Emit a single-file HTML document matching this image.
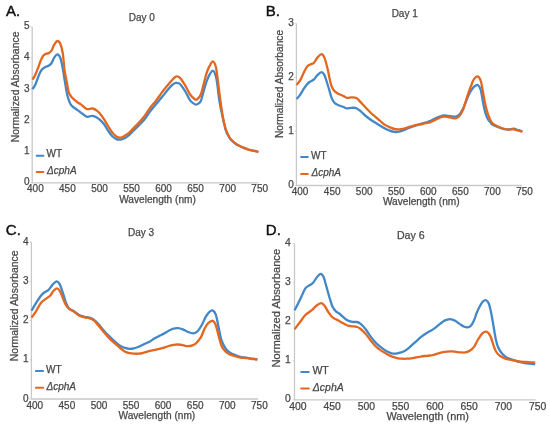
<!DOCTYPE html>
<html><head><meta charset="utf-8"><style>
html,body{margin:0;padding:0;background:#fff;}
svg{display:block;will-change:transform;}
text{stroke:#4a4a4a;stroke-width:0.25;font-family:"Liberation Sans",sans-serif;}
</style></head><body>
<svg width="550" height="427" viewBox="0 0 550 427">
<rect width="550" height="427" fill="#fff"/>
<text x="6.0" y="15.9" font-size="15" fill="#111" style="stroke:#111;stroke-width:0.45">A.</text>
<text x="141.8" y="20.9" font-size="10" fill="#454545" text-anchor="middle">Day 0</text>
<text transform="translate(18.7,86.9) rotate(-90)" font-size="10.45" fill="#454545" text-anchor="middle">Normalized Absorbance</text>
<text x="157.5" y="202.8" font-size="10.15" fill="#454545" text-anchor="middle">Wavelength (nm)</text>
<path d="M32.2,26.8 V182.8 H258.5" fill="none" stroke="#c9c9c9" stroke-width="1.3"/>
<path d="M30.400000000000002,182.8 h1.8" stroke="#c9c9c9" stroke-width="0.8"/>
<text x="26.7" y="185.1" font-size="10" fill="#454545" text-anchor="middle">0</text>
<path d="M30.400000000000002,151.6 h1.8" stroke="#c9c9c9" stroke-width="0.8"/>
<text x="26.7" y="153.9" font-size="10" fill="#454545" text-anchor="middle">1</text>
<path d="M30.400000000000002,120.4 h1.8" stroke="#c9c9c9" stroke-width="0.8"/>
<text x="26.7" y="122.7" font-size="10" fill="#454545" text-anchor="middle">2</text>
<path d="M30.400000000000002,89.2 h1.8" stroke="#c9c9c9" stroke-width="0.8"/>
<text x="26.7" y="91.5" font-size="10" fill="#454545" text-anchor="middle">3</text>
<path d="M30.400000000000002,58.0 h1.8" stroke="#c9c9c9" stroke-width="0.8"/>
<text x="26.7" y="60.3" font-size="10" fill="#454545" text-anchor="middle">4</text>
<path d="M30.400000000000002,26.8 h1.8" stroke="#c9c9c9" stroke-width="0.8"/>
<text x="26.7" y="29.1" font-size="10" fill="#454545" text-anchor="middle">5</text>
<text x="35.4" y="192.4" font-size="10" fill="#454545" text-anchor="middle">400</text>
<text x="67.4" y="192.4" font-size="10" fill="#454545" text-anchor="middle">450</text>
<text x="99.5" y="192.4" font-size="10" fill="#454545" text-anchor="middle">500</text>
<text x="131.5" y="192.4" font-size="10" fill="#454545" text-anchor="middle">550</text>
<text x="163.6" y="192.4" font-size="10" fill="#454545" text-anchor="middle">600</text>
<text x="195.6" y="192.4" font-size="10" fill="#454545" text-anchor="middle">650</text>
<text x="227.7" y="192.4" font-size="10" fill="#454545" text-anchor="middle">700</text>
<text x="259.7" y="192.4" font-size="10" fill="#454545" text-anchor="middle">750</text>
<path d="M32.4,89.2 C32.9,88.5 34.4,86.6 35.3,84.7 C36.2,82.8 37.0,80.1 37.9,77.9 C38.8,75.7 39.6,73.2 40.5,71.6 C41.4,70.0 42.3,69.2 43.2,68.4 C44.1,67.6 44.8,67.3 45.8,66.8 C46.8,66.3 47.9,66.2 48.9,65.6 C49.9,65.0 50.7,64.3 51.6,63.0 C52.5,61.7 53.2,59.0 54.2,57.6 C55.2,56.2 56.4,54.3 57.4,54.4 C58.4,54.5 59.5,55.7 60.4,58.1 C61.3,60.5 62.0,64.5 62.8,68.6 C63.6,72.7 64.3,78.4 65.1,82.9 C65.9,87.4 66.6,92.3 67.5,95.8 C68.4,99.3 69.3,102.0 70.4,104.0 C71.5,106.0 72.6,106.4 73.9,107.5 C75.2,108.6 76.8,109.6 78.0,110.4 C79.2,111.2 79.5,111.5 80.9,112.6 C82.4,113.6 84.8,116.2 86.7,116.7 C88.7,117.2 90.8,115.6 92.6,115.8 C94.3,116.0 96.0,117.1 97.2,117.8 C98.4,118.5 98.8,118.7 100.0,119.8 C101.2,120.9 102.7,122.4 104.1,124.3 C105.5,126.2 106.8,128.9 108.2,130.9 C109.6,132.9 110.9,134.8 112.3,136.2 C113.7,137.6 115.0,138.5 116.4,139.1 C117.8,139.7 119.1,139.7 120.5,139.6 C121.9,139.5 123.2,139.0 124.6,138.3 C126.0,137.6 127.3,136.6 128.7,135.4 C130.1,134.2 131.2,132.9 132.8,131.3 C134.4,129.7 136.6,127.5 138.5,125.6 C140.4,123.7 142.1,122.3 144.0,120.0 C145.9,117.7 148.0,114.1 150.0,111.5 C152.0,108.9 154.0,106.6 156.0,104.2 C158.0,101.8 160.0,99.4 162.0,97.0 C164.0,94.6 166.3,91.6 168.0,89.6 C169.7,87.6 170.7,86.3 172.0,85.2 C173.3,84.1 174.5,83.1 175.8,82.9 C177.1,82.7 178.4,82.5 180.0,84.0 C181.6,85.5 183.7,88.9 185.4,91.6 C187.1,94.3 188.5,98.3 190.1,100.4 C191.7,102.5 193.6,103.7 194.8,104.3 C196.0,104.9 196.2,104.8 197.2,104.3 C198.2,103.8 199.6,103.5 200.7,101.3 C201.8,99.1 202.6,94.6 203.6,91.3 C204.6,88.0 205.5,84.2 206.6,81.3 C207.7,78.4 209.0,75.5 210.1,73.7 C211.2,72.0 212.1,70.4 213.1,70.8 C214.1,71.2 215.1,73.5 215.8,76.1 C216.6,78.7 217.1,82.9 217.6,86.6 C218.1,90.3 218.5,94.9 219.0,98.3 C219.5,101.7 220.0,104.4 220.5,107.0 C221.0,109.6 221.5,111.5 222.0,114.0 C222.5,116.5 223.0,119.2 223.7,122.0 C224.4,124.8 225.1,128.3 226.1,131.0 C227.1,133.7 228.6,136.4 229.6,138.0 C230.6,139.6 231.0,139.7 232.0,140.7 C233.0,141.7 234.3,143.0 235.5,143.8 C236.7,144.7 237.8,145.2 239.0,145.8 C240.2,146.4 241.3,146.9 242.5,147.4 C243.7,147.9 244.8,148.3 246.0,148.7 C247.2,149.1 248.4,149.7 249.6,150.0 C250.8,150.3 251.9,150.3 253.1,150.6 C254.3,150.8 255.7,151.3 256.6,151.5 C257.5,151.7 258.1,151.9 258.4,152.0" fill="none" stroke="#4287c8" stroke-width="2.3" stroke-linejoin="round" stroke-linecap="butt"/>
<path d="M32.4,79.6 C32.9,78.8 34.4,76.6 35.3,74.7 C36.2,72.8 37.0,70.7 37.9,68.4 C38.8,66.1 39.6,63.2 40.5,61.1 C41.4,59.0 42.3,57.0 43.2,55.8 C44.1,54.6 44.8,54.4 45.8,53.9 C46.8,53.4 47.9,53.6 48.9,53.0 C49.9,52.4 50.7,51.9 51.6,50.5 C52.5,49.1 53.2,46.3 54.2,44.7 C55.2,43.1 56.3,41.1 57.3,41.0 C58.3,40.9 59.5,41.9 60.4,44.0 C61.3,46.1 62.1,49.1 62.8,53.4 C63.5,57.7 63.9,65.4 64.5,70.0 C65.1,74.6 65.9,77.4 66.6,81.0 C67.3,84.6 67.9,89.2 68.6,91.7 C69.3,94.2 70.0,94.9 71.0,96.3 C72.0,97.7 73.3,98.8 74.5,99.9 C75.7,101.0 76.9,102.0 78.0,102.8 C79.1,103.5 79.5,103.4 80.9,104.4 C82.4,105.4 84.8,108.3 86.7,109.0 C88.7,109.7 90.8,108.2 92.6,108.5 C94.3,108.8 96.0,109.9 97.2,110.8 C98.4,111.7 98.8,112.4 100.0,113.8 C101.2,115.2 102.7,117.3 104.1,119.4 C105.5,121.5 106.8,124.2 108.2,126.4 C109.6,128.6 110.9,130.8 112.3,132.5 C113.7,134.2 115.0,135.8 116.4,136.6 C117.8,137.4 119.1,137.7 120.5,137.6 C121.9,137.5 123.2,136.6 124.6,135.8 C126.0,135.0 127.3,134.2 128.7,133.0 C130.1,131.8 131.2,130.5 132.8,128.9 C134.4,127.3 136.1,125.6 138.0,123.6 C139.9,121.6 142.0,119.3 144.0,116.7 C146.0,114.1 148.0,110.7 150.0,108.0 C152.0,105.3 154.0,103.3 156.0,100.7 C158.0,98.1 160.0,95.1 162.0,92.4 C164.0,89.8 166.3,86.8 168.0,84.8 C169.7,82.8 170.7,81.6 172.0,80.2 C173.3,78.8 174.5,77.0 175.8,76.6 C177.1,76.2 178.4,76.3 180.0,77.8 C181.6,79.3 183.7,83.0 185.4,85.8 C187.1,88.6 188.5,92.3 190.1,94.5 C191.7,96.7 193.6,98.4 194.8,99.2 C196.0,100.0 196.2,99.9 197.2,99.2 C198.2,98.5 199.6,97.3 200.7,94.8 C201.8,92.3 202.6,87.9 203.6,84.3 C204.6,80.7 205.6,76.1 206.6,73.1 C207.6,70.1 208.4,68.0 209.5,66.1 C210.6,64.1 211.8,61.3 212.9,61.4 C214.0,61.5 215.0,63.9 215.8,66.7 C216.6,69.5 217.0,74.1 217.6,78.4 C218.2,82.7 218.8,88.6 219.3,92.5 C219.8,96.4 220.2,98.8 220.6,102.0 C221.0,105.2 221.5,108.5 222.0,111.7 C222.5,114.9 223.0,118.0 223.7,121.1 C224.4,124.2 225.1,127.7 226.1,130.4 C227.1,133.1 228.6,135.9 229.6,137.5 C230.6,139.1 231.0,139.2 232.0,140.2 C233.0,141.2 234.3,142.5 235.5,143.4 C236.7,144.3 237.8,144.9 239.0,145.5 C240.2,146.1 241.3,146.7 242.5,147.2 C243.7,147.7 244.8,148.1 246.0,148.6 C247.2,149.1 248.4,149.6 249.6,149.9 C250.8,150.2 251.9,150.2 253.1,150.5 C254.3,150.8 255.7,151.2 256.6,151.4 C257.5,151.6 258.1,151.8 258.4,151.9" fill="none" stroke="#e4671f" stroke-width="2.3" stroke-linejoin="round" stroke-linecap="butt"/>
<path d="M36.7,155.7 H43.4" stroke="#4287c8" stroke-width="2.0" stroke-linecap="round"/>
<path d="M36.7,171.9 H43.4" stroke="#e4671f" stroke-width="2.0" stroke-linecap="round"/>
<text x="46.6" y="157.1" font-size="10" fill="#454545">WT</text>
<text x="47.1" y="173.6" font-size="10" fill="#454545" font-style="italic">&#916;cphA</text>
<text x="265.8" y="15.9" font-size="15" fill="#111" style="stroke:#111;stroke-width:0.45">B.</text>
<text x="404.7" y="17.4" font-size="10" fill="#454545" text-anchor="middle">Day 1</text>
<text transform="translate(283,84.0) rotate(-90)" font-size="10.2" fill="#454545" text-anchor="middle">Normalized Absorbance</text>
<text x="421.3" y="205.3" font-size="10.15" fill="#454545" text-anchor="middle">Wavelength (nm)</text>
<path d="M296.4,23.6 V185.5 H521.9" fill="none" stroke="#c9c9c9" stroke-width="1.3"/>
<path d="M294.59999999999997,185.5 h1.8" stroke="#c9c9c9" stroke-width="0.8"/>
<text x="291" y="187.9" font-size="10" fill="#454545" text-anchor="middle">0</text>
<path d="M294.59999999999997,131.5 h1.8" stroke="#c9c9c9" stroke-width="0.8"/>
<text x="291" y="133.9" font-size="10" fill="#454545" text-anchor="middle">1</text>
<path d="M294.59999999999997,77.6 h1.8" stroke="#c9c9c9" stroke-width="0.8"/>
<text x="291" y="80.0" font-size="10" fill="#454545" text-anchor="middle">2</text>
<path d="M294.59999999999997,23.6 h1.8" stroke="#c9c9c9" stroke-width="0.8"/>
<text x="291" y="26.0" font-size="10" fill="#454545" text-anchor="middle">3</text>
<text x="300.1" y="194.9" font-size="10" fill="#454545" text-anchor="middle">400</text>
<text x="332.2" y="194.9" font-size="10" fill="#454545" text-anchor="middle">450</text>
<text x="364.2" y="194.9" font-size="10" fill="#454545" text-anchor="middle">500</text>
<text x="396.3" y="194.9" font-size="10" fill="#454545" text-anchor="middle">550</text>
<text x="428.3" y="194.9" font-size="10" fill="#454545" text-anchor="middle">600</text>
<text x="460.4" y="194.9" font-size="10" fill="#454545" text-anchor="middle">650</text>
<text x="492.4" y="194.9" font-size="10" fill="#454545" text-anchor="middle">700</text>
<text x="524.5" y="194.9" font-size="10" fill="#454545" text-anchor="middle">750</text>
<path d="M296.6,99.0 C297.2,98.4 298.8,96.8 299.9,95.2 C301.0,93.6 302.2,91.2 303.4,89.4 C304.6,87.6 305.8,85.7 306.9,84.4 C308.0,83.1 308.7,82.6 309.9,81.8 C311.1,81.0 312.6,80.6 313.9,79.5 C315.1,78.4 316.1,76.3 317.4,75.1 C318.7,73.9 320.3,72.2 321.5,72.2 C322.7,72.2 323.5,73.5 324.4,75.1 C325.3,76.7 326.0,79.6 326.8,82.0 C327.6,84.4 328.3,86.8 329.1,89.4 C329.9,92.0 330.6,95.4 331.5,97.6 C332.4,99.8 333.2,101.5 334.4,102.8 C335.6,104.1 337.0,104.5 338.5,105.2 C340.0,105.9 342.1,106.5 343.5,107.0 C344.9,107.5 345.6,108.3 347.0,108.4 C348.4,108.5 350.1,107.8 351.7,107.8 C353.3,107.8 354.8,107.5 356.4,108.2 C358.0,108.9 359.5,110.4 361.1,111.7 C362.7,113.0 364.2,114.7 365.8,116.0 C367.4,117.3 368.8,118.4 370.4,119.5 C371.9,120.6 373.5,121.5 375.1,122.5 C376.7,123.5 378.2,124.4 379.8,125.4 C381.4,126.4 382.9,127.4 384.5,128.3 C386.1,129.2 388.1,130.1 389.7,130.7 C391.3,131.3 392.8,131.8 394.4,131.9 C396.0,132.1 397.6,131.9 399.1,131.6 C400.7,131.3 402.1,130.8 403.7,130.2 C405.2,129.6 406.8,128.8 408.4,128.1 C410.0,127.4 411.5,126.8 413.1,126.3 C414.7,125.8 416.2,125.3 417.8,124.8 C419.4,124.3 420.9,123.9 422.5,123.4 C424.1,122.9 425.9,122.4 427.2,122.0 C428.4,121.6 428.8,121.5 430.0,121.0 C431.2,120.5 433.1,119.4 434.7,118.7 C436.3,118.0 437.8,117.2 439.4,116.7 C441.0,116.2 442.7,115.6 444.1,115.5 C445.5,115.4 446.7,115.8 448.0,115.9 C449.3,116.1 450.6,116.3 451.9,116.4 C453.2,116.5 454.4,116.9 455.7,116.6 C457.0,116.3 458.4,115.7 459.6,114.4 C460.8,113.1 462.0,110.5 463.0,108.6 C464.0,106.7 464.6,104.8 465.5,102.8 C466.4,100.8 467.2,98.3 468.1,96.4 C469.0,94.5 469.8,92.7 470.7,91.2 C471.6,89.7 472.4,88.4 473.3,87.4 C474.2,86.5 475.0,85.9 475.8,85.5 C476.6,85.1 477.1,84.6 477.9,85.2 C478.7,85.8 479.8,87.0 480.6,89.3 C481.4,91.6 481.9,96.0 482.5,99.2 C483.1,102.4 483.6,105.6 484.2,108.2 C484.8,110.8 485.3,112.9 486.0,114.8 C486.7,116.7 487.5,118.4 488.2,119.6 C488.9,120.8 489.7,121.4 490.4,122.2 C491.1,123.0 491.2,123.9 492.3,124.6 C493.4,125.3 495.2,125.9 497.0,126.6 C498.8,127.3 501.1,128.3 503.0,128.8 C504.9,129.3 506.9,129.5 508.7,129.5 C510.5,129.5 512.0,128.6 513.6,128.7 C515.2,128.8 516.8,129.8 518.3,130.2 C519.8,130.6 521.7,131.2 522.4,131.4" fill="none" stroke="#4287c8" stroke-width="2.3" stroke-linejoin="round" stroke-linecap="butt"/>
<path d="M296.6,85.0 C297.2,84.1 299.3,81.7 300.4,79.8 C301.5,77.9 302.3,75.6 303.4,73.4 C304.5,71.2 305.7,68.4 306.9,66.9 C308.1,65.4 309.2,65.1 310.4,64.4 C311.6,63.7 312.7,63.9 313.9,62.8 C315.1,61.7 316.1,59.0 317.4,57.6 C318.7,56.2 320.3,54.1 321.5,54.1 C322.7,54.1 323.4,55.3 324.4,57.6 C325.4,59.9 326.5,64.4 327.4,68.1 C328.3,71.8 329.2,77.0 329.9,80.0 C330.6,83.0 330.9,84.2 331.5,85.9 C332.1,87.6 332.8,89.1 333.8,90.3 C334.8,91.5 336.2,92.5 337.3,93.3 C338.4,94.0 339.5,94.3 340.5,94.8 C341.5,95.3 342.4,95.6 343.5,96.1 C344.6,96.6 345.6,97.7 347.0,97.9 C348.4,98.1 350.1,97.3 351.7,97.3 C353.3,97.3 354.8,97.2 356.4,98.1 C358.0,99.0 359.5,101.0 361.1,102.6 C362.7,104.2 364.2,106.1 365.8,107.8 C367.4,109.5 368.8,111.0 370.4,112.5 C371.9,114.0 373.5,115.2 375.1,116.6 C376.7,118.0 378.2,119.4 379.8,120.7 C381.4,122.0 382.9,123.5 384.5,124.6 C386.1,125.7 388.1,126.5 389.7,127.2 C391.3,127.9 392.8,128.7 394.4,129.0 C396.0,129.3 397.6,129.4 399.1,129.3 C400.7,129.2 402.1,129.0 403.7,128.7 C405.2,128.3 406.8,127.7 408.4,127.2 C410.0,126.7 411.5,126.2 413.1,125.8 C414.7,125.4 416.2,124.9 417.8,124.6 C419.4,124.3 420.9,124.3 422.5,124.0 C424.1,123.7 425.9,123.1 427.2,122.8 C428.4,122.5 428.8,122.7 430.0,122.3 C431.2,121.9 433.1,121.0 434.7,120.2 C436.3,119.5 437.8,118.4 439.4,117.8 C441.0,117.2 442.7,116.8 444.1,116.7 C445.5,116.6 446.7,116.8 448.0,117.0 C449.3,117.2 450.6,117.7 451.9,117.9 C453.2,118.1 454.4,118.7 455.7,118.3 C457.0,117.9 458.4,117.1 459.6,115.7 C460.8,114.3 462.0,112.2 463.0,109.9 C464.0,107.7 464.6,104.9 465.5,102.2 C466.4,99.5 467.2,96.4 468.1,93.8 C469.0,91.2 469.8,89.0 470.7,86.7 C471.6,84.5 472.4,81.9 473.3,80.3 C474.2,78.7 475.0,77.8 475.8,77.2 C476.6,76.6 477.2,76.1 478.0,76.6 C478.8,77.1 479.9,78.2 480.6,80.3 C481.4,82.4 481.9,85.9 482.5,89.3 C483.1,92.7 483.9,97.3 484.5,100.5 C485.1,103.7 485.7,106.2 486.3,108.6 C486.9,111.0 487.5,112.8 488.2,114.8 C488.9,116.8 489.8,119.0 490.6,120.5 C491.4,122.0 492.0,122.8 493.1,123.8 C494.2,124.8 495.6,125.4 497.2,126.2 C498.8,127.0 501.1,127.9 503.0,128.5 C504.9,129.1 506.9,129.5 508.7,129.6 C510.5,129.7 512.0,129.1 513.6,129.3 C515.2,129.5 516.8,130.3 518.3,130.7 C519.8,131.1 521.7,131.4 522.4,131.6" fill="none" stroke="#e4671f" stroke-width="2.3" stroke-linejoin="round" stroke-linecap="butt"/>
<path d="M301.1,157 H307.8" stroke="#4287c8" stroke-width="2.0" stroke-linecap="round"/>
<path d="M301.1,173.9 H307.8" stroke="#e4671f" stroke-width="2.0" stroke-linecap="round"/>
<text x="311.0" y="158.8" font-size="10" fill="#454545">WT</text>
<text x="311.5" y="176.0" font-size="10" fill="#454545" font-style="italic">&#916;cphA</text>
<text x="5.8" y="234.5" font-size="15" fill="#111" style="stroke:#111;stroke-width:0.45">C.</text>
<text x="141.1" y="236.3" font-size="10" fill="#454545" text-anchor="middle">Day 3</text>
<text transform="translate(17.8,305.8) rotate(-90)" font-size="10.45" fill="#454545" text-anchor="middle">Normalized Absorbance</text>
<text x="156.85" y="418.5" font-size="10.15" fill="#454545" text-anchor="middle">Wavelength (nm)</text>
<path d="M31.4,242 V399 H258.1" fill="none" stroke="#c9c9c9" stroke-width="1.3"/>
<path d="M29.599999999999998,399.0 h1.8" stroke="#c9c9c9" stroke-width="0.8"/>
<text x="25.9" y="401.6" font-size="10" fill="#454545" text-anchor="middle">0</text>
<path d="M29.599999999999998,359.8 h1.8" stroke="#c9c9c9" stroke-width="0.8"/>
<text x="25.9" y="362.4" font-size="10" fill="#454545" text-anchor="middle">1</text>
<path d="M29.599999999999998,320.5 h1.8" stroke="#c9c9c9" stroke-width="0.8"/>
<text x="25.9" y="323.1" font-size="10" fill="#454545" text-anchor="middle">2</text>
<path d="M29.599999999999998,281.2 h1.8" stroke="#c9c9c9" stroke-width="0.8"/>
<text x="25.9" y="283.9" font-size="10" fill="#454545" text-anchor="middle">3</text>
<path d="M29.599999999999998,242.0 h1.8" stroke="#c9c9c9" stroke-width="0.8"/>
<text x="25.9" y="244.6" font-size="10" fill="#454545" text-anchor="middle">4</text>
<text x="34.8" y="408.9" font-size="10" fill="#454545" text-anchor="middle">400</text>
<text x="66.9" y="408.9" font-size="10" fill="#454545" text-anchor="middle">450</text>
<text x="99.0" y="408.9" font-size="10" fill="#454545" text-anchor="middle">500</text>
<text x="131.1" y="408.9" font-size="10" fill="#454545" text-anchor="middle">550</text>
<text x="163.1" y="408.9" font-size="10" fill="#454545" text-anchor="middle">600</text>
<text x="195.2" y="408.9" font-size="10" fill="#454545" text-anchor="middle">650</text>
<text x="227.3" y="408.9" font-size="10" fill="#454545" text-anchor="middle">700</text>
<text x="259.4" y="408.9" font-size="10" fill="#454545" text-anchor="middle">750</text>
<path d="M31.6,310.7 C32.3,309.4 34.5,305.6 36.0,303.2 C37.5,300.8 39.3,297.8 40.7,296.0 C42.1,294.2 42.9,293.5 44.2,292.5 C45.5,291.5 46.9,291.5 48.3,290.2 C49.7,288.9 51.0,286.4 52.4,284.9 C53.8,283.4 55.3,281.6 56.5,281.4 C57.7,281.2 58.3,281.8 59.4,283.7 C60.5,285.6 61.9,290.0 63.0,293.1 C64.1,296.2 64.9,300.0 65.9,302.5 C66.9,305.0 67.5,306.8 68.8,308.2 C70.1,309.6 71.8,309.9 73.5,311.0 C75.2,312.1 77.2,314.0 79.0,315.0 C80.8,316.0 82.7,316.4 84.4,316.8 C86.1,317.2 87.5,317.1 89.1,317.6 C90.6,318.1 92.2,318.6 93.7,319.7 C95.2,320.8 96.8,322.4 98.4,324.1 C100.0,325.8 101.5,327.9 103.1,329.7 C104.7,331.5 106.2,333.3 107.8,334.9 C109.4,336.5 110.9,337.9 112.5,339.4 C114.1,340.8 115.8,342.5 117.2,343.6 C118.6,344.7 119.7,345.5 121.0,346.2 C122.3,346.9 123.6,347.5 125.0,347.9 C126.4,348.3 127.9,348.7 129.4,348.8 C130.9,348.9 132.6,348.6 134.1,348.3 C135.6,348.0 137.1,347.4 138.7,346.8 C140.2,346.2 141.5,345.4 143.4,344.5 C145.3,343.6 148.1,342.4 150.0,341.4 C151.9,340.4 153.1,339.2 154.7,338.3 C156.3,337.4 157.8,336.7 159.4,335.9 C161.0,335.1 162.6,334.5 164.1,333.6 C165.6,332.8 167.1,331.6 168.7,330.8 C170.2,330.0 171.8,329.0 173.4,328.6 C175.0,328.2 176.5,328.1 178.1,328.2 C179.7,328.3 181.2,328.8 182.8,329.4 C184.4,330.0 185.8,331.0 187.5,331.7 C189.2,332.4 191.4,333.5 193.1,333.4 C194.8,333.3 196.3,332.6 197.8,331.0 C199.3,329.4 201.0,326.4 202.3,324.0 C203.6,321.6 204.6,318.6 205.8,316.6 C207.0,314.6 208.4,312.8 209.5,311.8 C210.6,310.8 211.4,309.9 212.5,310.4 C213.6,310.9 214.8,311.8 215.8,314.6 C216.8,317.4 217.7,323.1 218.6,327.3 C219.5,331.5 220.3,336.5 221.4,339.9 C222.5,343.3 223.8,345.6 225.0,347.6 C226.2,349.6 227.5,350.8 228.9,351.9 C230.3,353.0 232.2,353.8 233.5,354.4 C234.8,355.0 235.8,355.4 237.0,355.8 C238.2,356.2 239.3,356.6 240.5,356.9 C241.7,357.2 242.8,357.3 244.0,357.5 C245.2,357.7 246.4,357.7 247.6,357.9 C248.8,358.1 249.9,358.4 251.1,358.6 C252.3,358.8 253.6,358.9 254.6,359.0 C255.6,359.1 256.9,359.3 257.4,359.4" fill="none" stroke="#4287c8" stroke-width="2.3" stroke-linejoin="round" stroke-linecap="butt"/>
<path d="M31.6,317.6 C32.3,316.6 34.5,313.8 36.0,311.4 C37.5,309.0 39.1,305.2 40.7,303.2 C42.3,301.1 43.8,300.3 45.4,299.1 C47.0,297.9 48.7,297.2 50.1,295.8 C51.5,294.4 52.4,292.0 53.6,290.8 C54.8,289.6 56.0,288.3 57.1,288.4 C58.2,288.5 59.0,289.6 60.0,291.3 C61.0,293.0 62.1,296.2 63.0,298.4 C63.9,300.6 64.6,302.8 65.6,304.5 C66.6,306.2 67.5,307.6 68.8,308.7 C70.1,309.8 71.8,310.3 73.5,311.4 C75.2,312.5 77.2,314.5 79.0,315.5 C80.8,316.5 82.7,316.9 84.4,317.3 C86.1,317.7 87.5,317.6 89.1,318.1 C90.6,318.6 92.2,319.0 93.7,320.2 C95.2,321.4 96.8,323.6 98.4,325.5 C100.0,327.4 101.5,329.4 103.1,331.3 C104.7,333.2 106.2,334.9 107.8,336.6 C109.4,338.3 110.9,339.8 112.5,341.3 C114.1,342.8 116.0,344.3 117.2,345.4 C118.5,346.5 118.8,346.9 120.0,347.9 C121.2,348.9 123.1,350.5 124.7,351.4 C126.3,352.3 127.8,352.7 129.4,353.1 C131.0,353.5 132.6,353.6 134.1,353.7 C135.6,353.8 137.1,353.8 138.7,353.7 C140.2,353.6 141.5,353.3 143.4,352.8 C145.3,352.3 148.1,351.4 150.0,350.9 C151.9,350.4 153.1,350.1 154.7,349.8 C156.3,349.5 157.8,349.3 159.4,348.9 C161.0,348.5 162.6,348.1 164.1,347.6 C165.6,347.1 167.1,346.5 168.7,346.0 C170.2,345.5 171.8,345.1 173.4,344.8 C175.0,344.6 176.5,344.4 178.1,344.5 C179.7,344.6 181.2,344.8 182.8,345.1 C184.4,345.4 185.8,346.2 187.5,346.2 C189.2,346.2 191.6,345.7 193.1,345.1 C194.6,344.5 195.3,344.1 196.6,342.7 C197.9,341.3 199.8,339.2 201.1,336.9 C202.4,334.6 203.4,331.0 204.6,328.7 C205.8,326.4 206.8,324.4 208.2,323.1 C209.6,321.8 211.5,320.5 212.8,320.8 C214.1,321.1 214.8,322.7 215.8,325.2 C216.8,327.7 217.7,332.3 218.6,335.7 C219.5,339.1 220.3,342.9 221.4,345.5 C222.5,348.1 223.8,349.7 225.0,351.1 C226.2,352.5 227.5,353.2 228.9,354.0 C230.3,354.8 232.2,355.2 233.5,355.6 C234.8,356.1 235.8,356.4 237.0,356.7 C238.2,357.0 239.3,357.4 240.5,357.6 C241.7,357.8 242.8,357.8 244.0,357.9 C245.2,358.0 246.4,358.0 247.6,358.2 C248.8,358.4 249.9,358.6 251.1,358.8 C252.3,359.0 253.6,359.0 254.6,359.1 C255.6,359.2 256.9,359.4 257.4,359.5" fill="none" stroke="#e4671f" stroke-width="2.3" stroke-linejoin="round" stroke-linecap="butt"/>
<path d="M35.9,370.9 H43.1" stroke="#4287c8" stroke-width="2.0" stroke-linecap="round"/>
<path d="M35.9,387.8 H43.1" stroke="#e4671f" stroke-width="2.0" stroke-linecap="round"/>
<text x="46.0" y="372.9" font-size="10" fill="#454545">WT</text>
<text x="46.5" y="389.8" font-size="10" fill="#454545" font-style="italic">&#916;cphA</text>
<text x="265.8" y="234.5" font-size="15" fill="#111" style="stroke:#111;stroke-width:0.45">D.</text>
<text x="410.8" y="238.5" font-size="10.6" fill="#454545" text-anchor="middle">Day 6</text>
<text transform="translate(279.8,308.2) rotate(-90)" font-size="11.2" fill="#454545" text-anchor="middle">Normalized Absorbance</text>
<text x="427.75" y="419.6" font-size="10.9" fill="#454545" text-anchor="middle">Wavelength (nm)</text>
<path d="M294.5,243.6 V399.9 H535.7" fill="none" stroke="#c9c9c9" stroke-width="1.3"/>
<path d="M292.7,399.9 h1.8" stroke="#c9c9c9" stroke-width="0.8"/>
<text x="288" y="402.4" font-size="10.4" fill="#454545" text-anchor="middle">0</text>
<path d="M292.7,360.8 h1.8" stroke="#c9c9c9" stroke-width="0.8"/>
<text x="288" y="363.3" font-size="10.4" fill="#454545" text-anchor="middle">1</text>
<path d="M292.7,321.8 h1.8" stroke="#c9c9c9" stroke-width="0.8"/>
<text x="288" y="324.2" font-size="10.4" fill="#454545" text-anchor="middle">2</text>
<path d="M292.7,282.7 h1.8" stroke="#c9c9c9" stroke-width="0.8"/>
<text x="288" y="285.2" font-size="10.4" fill="#454545" text-anchor="middle">3</text>
<path d="M292.7,243.6 h1.8" stroke="#c9c9c9" stroke-width="0.8"/>
<text x="288" y="246.1" font-size="10.4" fill="#454545" text-anchor="middle">4</text>
<text x="297.9" y="410.1" font-size="10.4" fill="#454545" text-anchor="middle">400</text>
<text x="332.1" y="410.1" font-size="10.4" fill="#454545" text-anchor="middle">450</text>
<text x="366.4" y="410.1" font-size="10.4" fill="#454545" text-anchor="middle">500</text>
<text x="400.6" y="410.1" font-size="10.4" fill="#454545" text-anchor="middle">550</text>
<text x="434.9" y="410.1" font-size="10.4" fill="#454545" text-anchor="middle">600</text>
<text x="469.1" y="410.1" font-size="10.4" fill="#454545" text-anchor="middle">650</text>
<text x="503.4" y="410.1" font-size="10.4" fill="#454545" text-anchor="middle">700</text>
<text x="537.6" y="410.1" font-size="10.4" fill="#454545" text-anchor="middle">750</text>
<path d="M294.6,310.2 C295.2,309.1 296.9,305.9 298.1,303.5 C299.3,301.1 300.5,298.6 301.7,296.0 C302.9,293.4 304.2,289.9 305.5,288.1 C306.8,286.3 308.3,286.1 309.6,285.2 C310.9,284.3 311.9,284.1 313.1,282.8 C314.3,281.5 315.4,279.1 316.6,277.6 C317.8,276.1 319.3,273.9 320.5,273.8 C321.7,273.7 322.6,274.8 323.6,277.0 C324.6,279.2 325.5,283.5 326.5,286.9 C327.5,290.3 328.5,294.2 329.5,297.5 C330.5,300.8 331.5,304.5 332.6,306.8 C333.7,309.1 334.8,310.3 335.9,311.4 C337.0,312.5 338.3,312.7 339.4,313.6 C340.5,314.5 341.4,315.5 342.7,316.6 C344.0,317.7 345.8,319.4 347.4,320.3 C349.0,321.2 350.6,321.6 352.1,321.9 C353.7,322.2 355.4,321.8 356.7,322.0 C358.0,322.2 358.6,322.3 360.0,323.4 C361.4,324.5 363.6,326.6 365.3,328.8 C367.1,331.0 368.8,334.1 370.5,336.4 C372.2,338.7 374.0,340.9 375.8,342.7 C377.6,344.5 379.4,346.0 381.1,347.4 C382.9,348.8 384.6,350.1 386.3,351.1 C388.1,352.1 390.2,352.9 391.6,353.3 C393.1,353.7 394.1,353.7 395.0,353.7 C395.9,353.7 396.3,353.6 397.1,353.4 C397.9,353.2 398.6,353.2 400.0,352.7 C401.4,352.2 403.6,351.7 405.3,350.6 C407.1,349.6 408.8,347.9 410.5,346.4 C412.2,344.9 414.0,343.2 415.8,341.6 C417.6,340.0 419.4,338.3 421.1,336.9 C422.9,335.5 424.6,334.3 426.3,333.2 C428.1,332.1 430.1,331.1 431.6,330.2 C433.1,329.3 434.2,328.5 435.5,327.6 C436.8,326.7 437.8,325.7 439.1,324.7 C440.4,323.7 441.8,322.2 443.2,321.4 C444.6,320.5 445.9,320.0 447.3,319.6 C448.7,319.2 450.0,319.1 451.4,319.3 C452.8,319.5 454.1,320.2 455.5,321.0 C456.9,321.8 458.2,323.0 459.6,323.9 C461.0,324.8 462.3,325.9 463.7,326.5 C465.1,327.1 466.6,327.5 467.8,327.3 C469.0,327.1 470.2,326.5 471.1,325.5 C472.1,324.5 472.8,322.9 473.5,321.4 C474.2,319.9 475.1,317.7 475.5,316.5 C475.9,315.3 475.5,315.7 476.2,314.0 C476.9,312.3 478.5,308.6 479.7,306.5 C480.9,304.4 482.1,302.2 483.2,301.2 C484.3,300.1 485.2,299.8 486.1,300.2 C487.1,300.6 488.1,301.7 488.9,303.7 C489.7,305.7 490.2,308.4 491.0,312.1 C491.8,315.8 492.7,321.3 493.5,326.0 C494.3,330.7 495.2,336.8 496.0,340.3 C496.8,343.9 497.2,345.2 498.1,347.3 C499.0,349.4 500.3,351.3 501.6,352.9 C502.9,354.5 504.3,355.9 505.7,356.9 C507.1,357.9 508.3,358.3 509.8,358.9 C511.3,359.5 513.1,360.0 514.7,360.5 C516.3,361.0 518.0,361.6 519.6,362.0 C521.2,362.4 522.9,362.7 524.5,363.0 C526.1,363.3 527.7,363.5 529.5,363.7 C531.3,363.9 534.2,364.1 535.2,364.2" fill="none" stroke="#4287c8" stroke-width="2.3" stroke-linejoin="round" stroke-linecap="butt"/>
<path d="M294.6,329.2 C295.2,328.5 296.8,326.4 297.9,324.9 C299.0,323.4 300.2,321.8 301.4,320.2 C302.6,318.6 303.7,316.8 304.9,315.5 C306.1,314.2 307.1,313.6 308.4,312.6 C309.7,311.6 311.1,310.8 312.5,309.6 C313.9,308.4 315.1,306.6 316.6,305.5 C318.1,304.4 319.9,303.1 321.3,303.2 C322.7,303.3 323.6,304.6 324.8,306.1 C326.0,307.6 327.1,310.2 328.3,312.0 C329.5,313.8 330.6,315.5 331.8,316.7 C333.0,317.9 334.2,318.4 335.3,319.0 C336.4,319.6 337.2,319.8 338.4,320.5 C339.6,321.2 341.2,322.3 342.7,323.1 C344.2,323.9 345.8,325.0 347.4,325.5 C349.0,326.0 350.6,326.1 352.1,326.3 C353.7,326.5 355.4,326.5 356.7,326.9 C358.0,327.3 358.6,327.4 360.0,328.5 C361.4,329.6 363.6,331.7 365.3,333.6 C367.1,335.6 368.8,338.1 370.5,340.2 C372.2,342.3 374.0,344.6 375.8,346.3 C377.6,348.0 379.4,349.4 381.1,350.6 C382.9,351.8 384.6,352.7 386.3,353.7 C388.1,354.7 390.2,355.8 391.6,356.4 C393.1,357.0 394.1,357.2 395.0,357.5 C395.9,357.8 396.0,357.9 397.1,358.1 C398.2,358.3 400.1,358.6 401.7,358.7 C403.2,358.8 404.8,358.8 406.4,358.7 C408.0,358.6 409.5,358.5 411.1,358.3 C412.7,358.1 414.2,357.8 415.8,357.5 C417.4,357.2 418.9,356.9 420.5,356.7 C422.1,356.4 423.6,356.2 425.2,356.0 C426.8,355.8 428.5,355.7 429.8,355.5 C431.1,355.3 431.7,355.3 433.0,355.0 C434.3,354.7 435.9,354.0 437.4,353.6 C438.9,353.2 440.6,352.7 442.1,352.4 C443.7,352.1 445.1,351.8 446.7,351.6 C448.2,351.4 449.8,351.3 451.4,351.3 C453.0,351.3 454.5,351.6 456.1,351.8 C457.7,352.0 459.2,352.3 460.8,352.4 C462.4,352.5 463.9,352.7 465.5,352.4 C467.1,352.1 468.7,351.5 470.1,350.5 C471.6,349.5 472.8,348.5 474.2,346.6 C475.6,344.7 477.0,341.1 478.4,338.9 C479.8,336.7 481.2,334.4 482.6,333.2 C484.0,332.0 485.5,331.3 486.8,331.8 C488.1,332.3 489.3,334.0 490.4,336.1 C491.5,338.2 492.3,341.9 493.2,344.5 C494.1,347.1 494.9,349.6 496.0,351.5 C497.1,353.4 498.1,354.5 499.5,355.6 C500.9,356.7 502.7,357.5 504.1,358.1 C505.6,358.7 506.8,359.0 508.2,359.3 C509.6,359.6 510.9,359.8 512.3,360.1 C513.7,360.4 514.9,360.8 516.4,361.0 C517.9,361.2 519.7,361.4 521.3,361.6 C522.9,361.8 524.6,361.9 526.2,362.0 C527.8,362.1 529.6,362.2 531.1,362.3 C532.6,362.4 534.5,362.6 535.2,362.6" fill="none" stroke="#e4671f" stroke-width="2.3" stroke-linejoin="round" stroke-linecap="butt"/>
<path d="M301.2,372 H308.8" stroke="#4287c8" stroke-width="2.0" stroke-linecap="round"/>
<path d="M301.2,388.6 H308.8" stroke="#e4671f" stroke-width="2.0" stroke-linecap="round"/>
<text x="312.4" y="374.0" font-size="10.5" fill="#454545">WT</text>
<text x="312.8" y="390.8" font-size="10.5" fill="#454545" font-style="italic">&#916;cphA</text>
</svg>
</body></html>
